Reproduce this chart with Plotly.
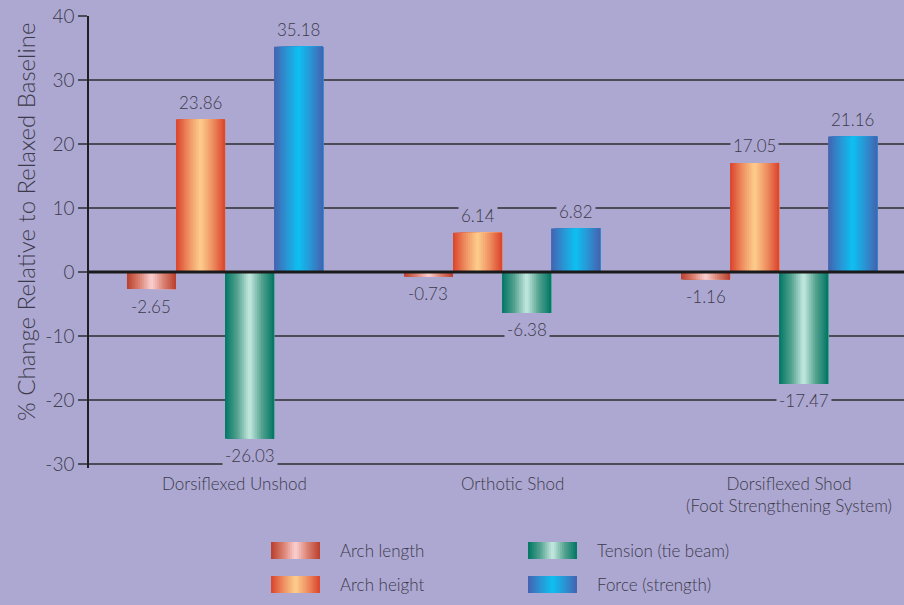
import plotly.graph_objects as go

# ---- data ----
categories = ["Dorsiflexed Unshod", "Orthotic Shod", "Dorsiflexed Shod<br>(Foot Strengthening System)"]
series_names = ["Arch length", "Arch height", "Tension (tie beam)", "Force (strength)"]
arch_length = [-2.65, -0.73, -1.16]
arch_height = [23.86, 6.14, 17.05]
tension = [-26.03, -6.38, -17.47]
force = [35.18, 6.82, 21.16]
y_ticks = [-30, -20, -10, 0, 10, 20, 30, 40]

series_values = [arch_length, arch_height, tension, force]

# gradient stops from bar edge (0) to bar centre (1)
gradients = [
    [(0.0, (186, 62, 44)), (0.5, (218, 128, 112)), (1.0, (250, 208, 210))],
    [(0.0, (218, 66, 44)), (0.5, (238, 142, 96)), (1.0, (253, 206, 142))],
    [(0.0, (0, 118, 100)), (0.5, (84, 162, 144)), (1.0, (198, 234, 224))],
    [(0.0, (68, 98, 176)), (0.5, (42, 148, 212)), (1.0, (14, 192, 242))],
]

BG = "#ada8d2"
TEXT = "#3c3a4a"
GRID = "#4d4b58"
FONT = "Lato"
WEIGHT = 300

# ---- geometry (pixels of the 904x605 canvas) ----
W, H = 904, 605
PL, PR, PT, PB = 89, 904, 16, 468          # plot area
X_RANGE = [-0.491, 2.451]
Y_RANGE = [-30.6, 40]
N_SLICES = 26
BAR_W = 0.177
GROUP_START = -2 * BAR_W


def lerp_color(stops, u):
    for (u0, c0), (u1, c1) in zip(stops, stops[1:]):
        if u <= u1:
            f = (u - u0) / (u1 - u0) if u1 > u0 else 0
            c = [round(a + (b - a) * f) for a, b in zip(c0, c1)]
            return "rgb(%d,%d,%d)" % tuple(c)
    return "rgb(%d,%d,%d)" % stops[-1][1]


def slice_color(stops, k, n):
    t = (k + 0.5) / n
    u = 1 - abs(t - 0.5) * 2  # 0 at edges, 1 at centre
    return lerp_color(stops, u)


def px_x(px):
    return (px - PL) / (PR - PL)


def px_y(py):
    return (PB - py) / (PB - PT)


def font(size):
    return dict(family=FONT, size=size, color=TEXT, weight=WEIGHT)


fig = go.Figure()

# gradient bars: each bar is built from stacked slices; every slice spans
# from its own start to the bar's right edge, later slices drawn on top
sw = BAR_W / N_SLICES
for s, vals in enumerate(series_values):
    base_off = GROUP_START + s * BAR_W
    for k in range(N_SLICES):
        fig.add_trace(go.Bar(
            x=list(range(len(categories))),
            y=vals,
            offset=base_off + k * sw,
            width=BAR_W - k * sw,
            marker=dict(color=slice_color(gradients[s], k, N_SLICES), line=dict(width=0)),
            showlegend=False,
            hoverinfo="skip",
        ))

annotations = []
# value labels
for s, vals in enumerate(series_values):
    cx = GROUP_START + s * BAR_W + BAR_W / 2
    for i, v in enumerate(vals):
        annotations.append(dict(
            x=i + cx, y=v, xref="x", yref="y",
            text=f"{v:.2f}", showarrow=False,
            yanchor="middle", yshift=17 if v >= 0 else -17,
            font=font(17),
            bgcolor=BG, borderpad=2,
        ))

# category labels
for i, c in enumerate(categories):
    annotations.append(dict(
        x=i + 0.036, y=0, xref="x", yref="paper",
        text=c, showarrow=False, yanchor="top", yshift=-3,
        font=font(17),
        align="center",
    ))

# y-axis title
annotations.append(dict(
    x=px_x(25), y=px_y(222), xref="paper", yref="paper",
    text="% Change Relative to Relaxed Baseline", showarrow=False,
    textangle=-90, xanchor="center", yanchor="middle",
    font=font(24),
))

shapes = []
# zero reference line over the bars
shapes.append(dict(type="line", xref="paper", yref="y", x0=0, x1=1, y0=0, y1=0,
                   line=dict(color="#1a1a1a", width=3), layer="above"))

# legend with gradient swatches
legend_pos = [(271, 542), (271, 576), (528, 542), (528, 576)]
SW_W, SW_H = 49, 17
for s, name in enumerate(series_names):
    lx, ly = legend_pos[s]
    for k in range(N_SLICES):
        x0 = lx + k * SW_W / N_SLICES
        shapes.append(dict(
            type="rect", xref="paper", yref="paper",
            x0=px_x(x0), x1=px_x(lx + SW_W), y0=px_y(ly + SW_H), y1=px_y(ly),
            fillcolor=slice_color(gradients[s], k, N_SLICES), line=dict(width=0),
        ))
    annotations.append(dict(
        x=px_x(lx + SW_W + 18), y=px_y(ly + SW_H / 2), xref="paper", yref="paper",
        text=name, showarrow=False, xanchor="left", yanchor="middle",
        font=font(17),
    ))

fig.update_layout(
    width=W, height=H,
    margin=dict(l=PL, r=W - PR, t=PT, b=H - PB),
    paper_bgcolor=BG, plot_bgcolor=BG,
    barmode="overlay",
    showlegend=False,
    xaxis=dict(range=X_RANGE, showgrid=False, zeroline=False, showline=False,
               showticklabels=False, ticks=""),
    yaxis=dict(range=Y_RANGE, tickvals=y_ticks, ticktext=[str(t) for t in y_ticks],
               showgrid=True, gridcolor=GRID, gridwidth=1.5,
               zeroline=False, showline=True, linecolor="#1f1f24", linewidth=1.5,
               ticks="outside", ticklen=9, tickwidth=1.5, tickcolor=GRID,
               tickfont=font(19)),
    annotations=annotations,
    shapes=shapes,
)

fig.write_html("out.html")
